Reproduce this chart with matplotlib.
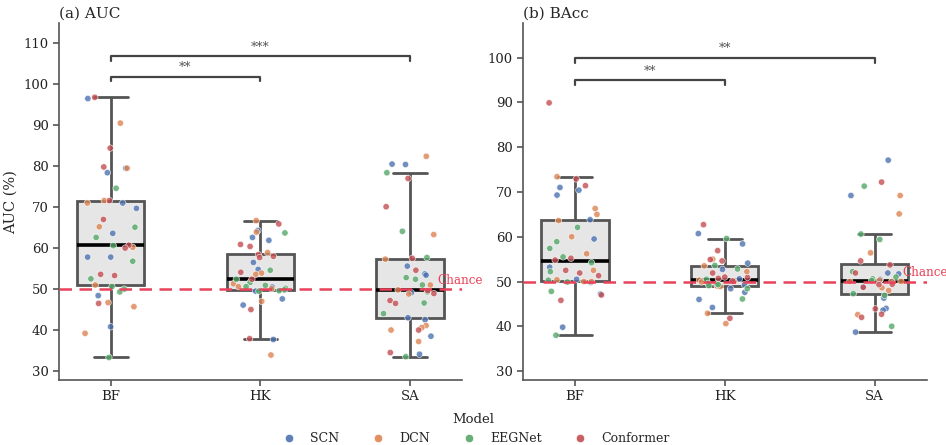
import numpy as np
import pandas as pd
import matplotlib
matplotlib.use("Agg")
import matplotlib.pyplot as plt
import seaborn as sns
from matplotlib.lines import Line2D

sites = ["BF", "HK", "SA"]
models = ["SCN", "DCN", "EEGNet", "Conformer"]

# per-subject AUC (%) for each model and site
auc_scn = {"BF": [96.5, 79.5, 78.4, 71.0, 69.7, 63.6, 57.8, 57.8, 48.4, 40.8],
           "HK": [64.3, 62.6, 61.9, 56.5, 54.8, 50.5, 49.5, 47.6, 46.1, 37.7],
           "SA": [80.5, 80.4, 55.6, 53.7, 53.4, 49.1, 43.0, 42.5, 38.5, 34.1]}
auc_dcn = {"BF": [90.5, 79.5, 71.6, 71.0, 65.2, 60.2, 51.0, 46.7, 45.7, 39.2],
           "HK": [66.7, 63.9, 58.9, 53.9, 53.6, 51.3, 50.6, 50.1, 47.0, 33.9],
           "SA": [82.4, 63.3, 57.3, 51.0, 49.8, 48.8, 41.1, 40.6, 40.0, 37.2]}
auc_eegnet = {"BF": [74.6, 65.1, 62.6, 60.6, 56.8, 52.5, 50.6, 50.0, 49.3, 33.3],
              "HK": [63.7, 54.6, 52.4, 51.6, 50.9, 50.6, 50.2, 49.8, 49.6, 49.5],
              "SA": [78.4, 64.1, 57.7, 52.8, 52.4, 51.0, 49.3, 46.6, 44.0, 33.5]}
auc_conformer = {"BF": [96.8, 84.4, 79.8, 71.6, 67.0, 60.7, 60.0, 53.6, 53.3, 46.5],
                 "HK": [65.9, 60.9, 60.4, 58.4, 58.0, 57.7, 54.1, 52.4, 45.0, 37.9],
                 "SA": [77.0, 70.1, 57.5, 54.6, 49.6, 48.9, 47.2, 46.5, 40.0, 34.5]}

# per-subject balanced accuracy (%)
bacc_scn = {"BF": [71.0, 70.4, 69.3, 63.8, 59.5, 53.2, 50.5, 49.8, 47.2, 39.8],
            "HK": [60.7, 58.4, 54.1, 52.7, 50.6, 49.3, 48.4, 47.6, 46.0, 44.2],
            "SA": [77.1, 69.2, 51.9, 51.7, 50.5, 48.8, 46.3, 44.0, 43.6, 38.7]}
bacc_dcn = {"BF": [73.4, 66.3, 65.0, 63.6, 60.0, 56.2, 52.5, 50.4, 50.0, 50.0],
            "HK": [55.0, 53.5, 52.2, 50.3, 50.0, 49.9, 49.0, 48.9, 42.9, 40.6],
            "SA": [69.2, 65.1, 56.4, 50.3, 50.0, 50.0, 50.0, 48.6, 48.0, 42.6]}
bacc_eegnet = {"BF": [62.1, 58.9, 57.4, 55.5, 54.2, 52.2, 50.3, 49.9, 47.8, 38.0],
               "HK": [59.6, 53.6, 52.8, 50.5, 49.6, 49.5, 49.3, 49.1, 48.4, 46.1],
               "SA": [71.3, 60.6, 59.4, 52.2, 51.0, 50.6, 50.2, 47.3, 46.9, 40.0]}
bacc_conformer = {"BF": [89.9, 72.9, 71.4, 55.2, 54.8, 52.5, 51.9, 51.3, 47.0, 45.8],
                  "HK": [62.7, 56.9, 54.9, 54.6, 51.9, 51.0, 50.9, 50.7, 50.1, 41.8],
                  "SA": [72.2, 54.6, 53.7, 51.9, 49.4, 49.3, 48.7, 43.9, 42.7, 42.0]}

# significance tests: (site a, site b, stars)
auc_sig = [("BF", "HK", "**"), ("BF", "SA", "***")]
bacc_sig = [("BF", "HK", "**"), ("BF", "SA", "**")]


def to_frame(per_model, metric):
    rows = []
    for model, values in zip(models, per_model):
        for site in sites:
            for v in values[site]:
                rows.append({"Site": site, "Model": model, metric: v})
    return pd.DataFrame(rows)


auc_df = to_frame([auc_scn, auc_dcn, auc_eegnet, auc_conformer], "AUC")
bacc_df = to_frame([bacc_scn, bacc_dcn, bacc_eegnet, bacc_conformer], "BAcc")

sns.set_style("ticks")
plt.rcParams["font.family"] = ["DejaVu Serif"]
plt.rcParams["axes.edgecolor"] = "#555555"
plt.rcParams["xtick.color"] = "#555555"
plt.rcParams["ytick.color"] = "#555555"
plt.rcParams["xtick.labelcolor"] = "#222222"
plt.rcParams["ytick.labelcolor"] = "#222222"

palette = sns.color_palette("deep", 4)
chance_color = "#e8435a"

fig = plt.figure(figsize=(9.46, 4.45), dpi=100)
ax_auc = fig.add_axes([0.0624, 0.146, 0.426, 0.802])
ax_bacc = fig.add_axes([0.553, 0.146, 0.4265, 0.802])

np.random.seed(7)


def draw_panel(ax, df, metric, title, ylim, yticks, sig, ylabel=None):
    sns.boxplot(data=df, x="Site", y=metric, order=sites, width=0.45,
                showfliers=False, color="#e6e6e6", linecolor="#555555",
                linewidth=2, medianprops=dict(color="black", linewidth=2.6),
                ax=ax)
    sns.stripplot(data=df, x="Site", y=metric, hue="Model", order=sites,
                  hue_order=models, palette=palette, jitter=0.18, size=4.6,
                  edgecolor="white", linewidth=0.5, alpha=0.8, legend=False,
                  ax=ax, zorder=3)

    ax.axhline(50, color=chance_color, linestyle=(0, (5, 3)), linewidth=1.8,
               zorder=4)
    ax.text(2.185, 50.6, "Chance", color=chance_color, fontsize=8.6,
            va="bottom", ha="left", clip_on=False)

    # brackets above the tallest box
    top = df[metric].max()
    for i, (a, b, stars) in enumerate(sig):
        y = top + 5 + 5 * i
        x1, x2 = sites.index(a), sites.index(b)
        ax.plot([x1, x1, x2, x2], [y - 1.1, y, y, y - 1.1],
                color="#444444", linewidth=1.6, zorder=5)
        ax.text((x1 + x2) / 2, y + 0.6, stars, ha="center", va="bottom",
                fontsize=9, color="#555555")

    ax.set_xlim(-0.345, 2.347)
    ax.set_ylim(*ylim)
    ax.set_yticks(yticks)
    ax.tick_params(axis="both", labelsize=9.5, width=1.2, length=4)
    ax.set_xlabel("")
    ax.set_ylabel(ylabel if ylabel else "", fontsize=10.5)
    ax.set_title(title, loc="left", fontsize=11, pad=4)
    for s in ["left", "bottom"]:
        ax.spines[s].set_linewidth(1.2)
    sns.despine(ax=ax)


draw_panel(ax_auc, auc_df, "AUC", "(a) AUC", (27.8, 114.9),
           np.arange(30, 111, 10), auc_sig, ylabel="AUC (%)")
draw_panel(ax_bacc, bacc_df, "BAcc", "(b) BAcc", (28.0, 107.7),
           np.arange(30, 101, 10), bacc_sig)

handles = [Line2D([0], [0], marker="o", linestyle="", markersize=6,
                  markerfacecolor=c, markeredgecolor="white",
                  markeredgewidth=0.5, alpha=0.9) for c in palette]
fig.legend(handles, models, title="Model", loc="lower center",
           bbox_to_anchor=(0.5, -0.026), ncol=4, frameon=False, fontsize=9,
           title_fontsize=9.5, handletextpad=0.7, columnspacing=2.1)

fig.savefig("out.png", dpi=100)
